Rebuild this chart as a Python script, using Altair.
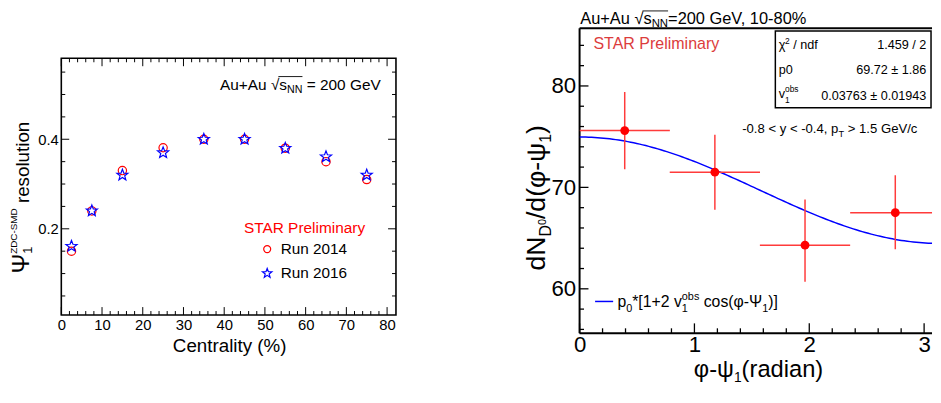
import math
import altair as alt
import pandas as pd

FONT = "Liberation Sans"

# ---------------- left panel data ----------------
CENTRALITY = [2.5, 7.5, 15, 25, 35, 45, 55, 65, 75]
RES_RUN2014 = [0.150, 0.240, 0.330, 0.381, 0.400, 0.400, 0.380, 0.350, 0.310]
RES_RUN2016 = [0.161, 0.240, 0.320, 0.370, 0.400, 0.400, 0.380, 0.361, 0.320]
RUNS = ["Run 2014", "Run 2016"]
LEFT_X_LABELS = [0, 10, 20, 30, 40, 50, 60, 70, 80]
LEFT_Y_LABELS = [0.2, 0.4]
LEFT_X_MINOR = [2, 4, 6, 8, 12, 14, 16, 18, 22, 24, 26, 28, 32, 34, 36, 38, 42, 44, 46, 48,
                52, 54, 56, 58, 62, 64, 66, 68, 72, 74, 76, 78]
LEFT_Y_MINOR = [0.05, 0.10, 0.15, 0.25, 0.30, 0.35, 0.45, 0.50, 0.55]

# ---------------- right panel data ----------------
PHI_CENTER = [0.393, 1.178, 1.963, 2.749]
PHI_HALFWIDTH = [0.393, 0.393, 0.393, 0.393]
DN_VALUE = [75.6, 71.5, 64.3, 67.5]
DN_LOW = [71.8, 67.8, 60.7, 63.9]
DN_HIGH = [79.4, 75.2, 68.8, 71.2]
FIT_P0, FIT_P0_ERR = 69.72, 1.86
FIT_V1, FIT_V1_ERR = 0.03763, 0.01943
CHI2, NDF = 1.459, 2
RIGHT_X_LABELS = [0, 1, 2, 3]
RIGHT_Y_LABELS = [60, 70, 80]
RIGHT_X_MINOR = [0.2, 0.4, 0.6, 0.8, 1.2, 1.4, 1.6, 1.8, 2.2, 2.4, 2.6, 2.8]
RIGHT_Y_MINOR = [56, 58, 62, 64, 66, 68, 72, 74, 76, 78, 82, 84]

# ---------------- geometry (page pixels) ----------------
R_X0, R_Y0, R_W, R_H = 581, 26.5, 357, 309
L_X0, L_W = 61, 339
L_FT, L_FB = 57, 317            # left frame top / bottom (page)
L_Y0 = R_Y0                      # views share the same top in the row
L_H = L_FB - L_Y0                # view height
L_FTR = L_FT - L_Y0              # frame top relative to view


def lin(p, p1, v1, p2, v2):
    return v1 + (p - p1) * (v2 - v1) / (p2 - p1)


L_XDOM = [lin(L_X0, 61, 0, 391, 80), lin(L_X0 + L_W, 61, 0, 391, 80)]
L_YDOM = [lin(L_FB, 229.7, 0.2, 139.0, 0.4), lin(L_FT, 229.7, 0.2, 139.0, 0.4)]
R_XDOM = [lin(R_X0, 581, 0, 930, 3), lin(R_X0 + R_W, 581, 0, 930, 3)]
R_YDOM = [lin(R_Y0 + R_H, 290.5, 60, 85, 80), lin(R_Y0, 290.5, 60, 85, 80)]

LXS = alt.Scale(domain=L_XDOM, nice=False, zero=False)
LYS = alt.Scale(domain=L_YDOM, range=[L_H, L_FTR], nice=False, zero=False)
RXS = alt.Scale(domain=R_XDOM, nice=False, zero=False)
RYS = alt.Scale(domain=R_YDOM, nice=False, zero=False)

ONE = pd.DataFrame({"k": [0]})

AW = {" ": 278, "!": 278, "%": 889, "(": 333, ")": 333, "*": 389, "+": 584, ",": 278,
      "-": 333, ".": 278, "/": 278, "<": 584, "=": 584, ">": 584, "[": 278, "]": 278,
      "A": 667, "C": 722, "D": 722, "G": 778, "M": 833, "N": 722, "P": 667, "R": 722,
      "S": 667, "T": 611, "V": 667, "Z": 611, "a": 556, "b": 556, "c": 500, "d": 556,
      "e": 556, "f": 278, "i": 222, "l": 222, "m": 833, "n": 556, "o": 556, "p": 556,
      "r": 333, "s": 500, "t": 278, "u": 556, "v": 500, "y": 500, "±": 584, "√": 549,
      "Ψ": 833, "φ": 649, "ψ": 712, "χ": 500}


def tw(s, fs):
    return sum(AW.get(c, 556) for c in s) * fs / 1000.0


def txt(t, x, y, fs, color="black", angle=0, align="left"):
    kw = dict(text=t, fontSize=fs, font=FONT, color=color, align=align, baseline="alphabetic")
    if angle:
        kw["angle"] = angle
    return alt.Chart(ONE).mark_text(**kw).encode(x=alt.value(x), y=alt.value(y))


def rich(segs, px, py, origin, color="black", vertical=False):
    ox, oy = origin
    x0, y0 = px - ox, py - oy
    layers = []
    cur = 0.0
    for seg in segs:
        t, fs, shift = seg[0], seg[1], seg[2]
        adv = seg[3] if len(seg) > 3 else True
        lead = len(t) - len(t.lstrip(" "))
        cur += lead * 0.278 * fs
        core = t.strip(" ")
        trail = (len(t) - len(t.rstrip(" "))) if core else 0
        if core:
            if vertical:
                layers.append(txt(core, x0 + shift, y0 - cur, fs, color, angle=270))
            else:
                layers.append(txt(core, x0 + cur, y0 + shift, fs, color))
        if adv:
            cur += tw(core, fs) + trail * 0.278 * fs
    return layers


def hline(x1, x2, y, origin, color="black", sw=1.0):
    ox, oy = origin
    return alt.Chart(ONE).mark_rule(color=color, strokeWidth=sw).encode(
        x=alt.value(x1 - ox), x2=alt.value(x2 - ox), y=alt.value(y - oy))


def vline(x, y1, y2, origin, color="black", sw=1.0):
    ox, oy = origin
    return alt.Chart(ONE).mark_rule(color=color, strokeWidth=sw).encode(
        x=alt.value(x - ox), y=alt.value(y1 - oy), y2=alt.value(y2 - oy))


def marker(x, y, origin):
    ox, oy = origin
    return alt.Chart(ONE).mark_rule(opacity=0, strokeWidth=1).encode(
        x=alt.value(x - ox), x2=alt.value(x - ox), y=alt.value(y - oy), y2=alt.value(y - oy))


def label_axis(values, fmt, fs, pad):
    return alt.Axis(values=values, format=fmt, ticks=False, tickSize=0, domain=False, grid=False,
                    labelFont=FONT, labelFontSize=fs, labelColor="black", labelPadding=pad,
                    labelFlush=False, labelOverlap=False, title=None)


LXA = label_axis(LEFT_X_LABELS, "d", 15, 3)
LYA = label_axis(LEFT_Y_LABELS, ".1f", 15, 3)
RXA = label_axis(RIGHT_X_LABELS, "d", 22.5, 1)
RYA = label_axis(RIGHT_Y_LABELS, "d", 22.5, 4)


def xticks(values, scale, axis, y1, y2, sw=1.0):
    return alt.Chart(pd.DataFrame({"v": values})).mark_rule(color="black", strokeWidth=sw).encode(
        x=alt.X("v:Q", scale=scale, axis=axis), y=alt.value(y1), y2=alt.value(y2))


def yticks(values, scale, axis, x1, x2, sw=1.0):
    return alt.Chart(pd.DataFrame({"v": values})).mark_rule(color="black", strokeWidth=sw).encode(
        y=alt.Y("v:Q", scale=scale, axis=axis), x=alt.value(x1), x2=alt.value(x2))


def star_path(r_in=0.42):
    pts = []
    for k in range(10):
        ang = math.radians(-90 + 36 * k)
        r = 1.0 if k % 2 == 0 else r_in
        pts.append(f"{r * math.cos(ang):.3f},{r * math.sin(ang):.3f}")
    return "M" + "L".join(pts) + "Z"


CIRCLE_PATH = "M0.71,0A0.71,0.71,0,1,1,-0.71,0A0.71,0.71,0,1,1,0.71,0Z"

# ====================== LEFT PANEL ======================
LO = (L_X0, L_Y0)
left_df = pd.DataFrame({
    "centrality": CENTRALITY + CENTRALITY,
    "resolution": RES_RUN2014 + RES_RUN2016,
    "run": [RUNS[0]] * len(CENTRALITY) + [RUNS[1]] * len(CENTRALITY),
})
leg = alt.Legend(orient="none", legendX=200.8, legendY=185.5 + L_FTR, title=None, labelFont=FONT,
                 labelFontSize=15.5, labelColor="black", labelOffset=6, rowPadding=7.5,
                 padding=0, symbolStrokeWidth=1.2)
left_points = alt.Chart(left_df).mark_point(filled=False, strokeWidth=1.2, size=140, opacity=1).encode(
    x=alt.X("centrality:Q", scale=LXS, axis=LXA),
    y=alt.Y("resolution:Q", scale=LYS, axis=LYA),
    shape=alt.Shape("run:N", scale=alt.Scale(domain=RUNS, range=[CIRCLE_PATH, star_path()]), legend=leg),
    color=alt.Color("run:N", scale=alt.Scale(domain=RUNS, range=["#ff0000", "#0000ff"]), legend=leg),
)

left_layers = [
    marker(8.5, 150, LO), marker(L_X0 + L_W + 5, 150, LO),
    alt.Chart(ONE).mark_rect(filled=False, stroke="black", strokeWidth=1.6).encode(
        x=alt.value(0), x2=alt.value(L_W), y=alt.value(L_FTR), y2=alt.value(L_H)),
    xticks(LEFT_X_LABELS, LXS, LXA, L_H, L_H - 8), xticks(LEFT_X_MINOR, LXS, LXA, L_H, L_H - 4),
    xticks(LEFT_X_LABELS, LXS, LXA, L_FTR, L_FTR + 8), xticks(LEFT_X_MINOR, LXS, LXA, L_FTR, L_FTR + 4),
    yticks(LEFT_Y_LABELS, LYS, LYA, 0, 8), yticks(LEFT_Y_MINOR, LYS, LYA, 0, 4),
    yticks(LEFT_Y_LABELS, LYS, LYA, L_W, L_W - 8), yticks(LEFT_Y_MINOR, LYS, LYA, L_W, L_W - 4),
    left_points,
]
# annotation: Au+Au sqrt(s_NN) = 200 GeV
ann_x, ann_y = 221.7, 89.3
AFS = 15.6
left_layers += rich([("Au+Au ", AFS, 0), ("√", AFS, 0), ("s", AFS, 0), ("NN", 10.8, 3), (" = 200 GeV", AFS, 0)],
                    ann_x, ann_y, LO)
ov_start = ann_x + tw("Au+Au ", AFS) + tw("√", AFS) - 1
ov_end = ov_start + 1 + tw("s", AFS) + tw("NN", 10.8)
left_layers.append(hline(ov_start, ov_end, ann_y - 13.8, LO, sw=0.9))
left_layers.append(txt("STAR Preliminary", 246 - L_X0, 234 - L_Y0, 15.6, "#ff0000"))
left_layers.append(txt("Centrality (%)", 174 - L_X0, 354.3 - L_Y0, 19))
left_layers += rich([("Ψ", 24, 0), ("1", 13, 3, False), ("ZDC-SMD", 10, -12), (" resolution", 19, 0)],
                    28, 275, LO, vertical=True)

left = alt.layer(*left_layers).properties(width=L_W, height=L_H)

# ====================== RIGHT PANEL ======================
RO = (R_X0, R_Y0)
right_df = pd.DataFrame({
    "phi": PHI_CENTER,
    "phi_lo": [c - h for c, h in zip(PHI_CENTER, PHI_HALFWIDTH)],
    "phi_hi": [c + h for c, h in zip(PHI_CENTER, PHI_HALFWIDTH)],
    "dn": DN_VALUE, "dn_lo": DN_LOW, "dn_hi": DN_HIGH,
})
fit_x = [i * math.pi / 120 for i in range(121)]
fit_df = pd.DataFrame({"x": fit_x, "y": [FIT_P0 * (1 + 2 * FIT_V1 * math.cos(v)) for v in fit_x]})
ERR_COLOR = "#ff3b3b"

right_layers = [
    marker(R_X0 - 160.5, R_Y0 - 18, RO),
    hline(R_X0, R_X0 + R_W, R_Y0, RO, sw=2), hline(R_X0, R_X0 + R_W, R_Y0 + R_H, RO, sw=2),
    vline(R_X0, R_Y0, R_Y0 + R_H, RO, sw=2),
    xticks(RIGHT_X_LABELS, RXS, RXA, R_H, R_H - 10, 1.3), xticks(RIGHT_X_MINOR, RXS, RXA, R_H, R_H - 5, 1.3),
    yticks(RIGHT_Y_LABELS, RYS, RYA, 0, 9, 1.3), yticks(RIGHT_Y_MINOR, RYS, RYA, 0, 4.5, 1.3),
    alt.Chart(fit_df).mark_line(color="#0000ff", strokeWidth=1.5, clip=True).encode(
        x=alt.X("x:Q", scale=RXS, axis=RXA), y=alt.Y("y:Q", scale=RYS, axis=RYA)),
    alt.Chart(right_df).mark_rule(color=ERR_COLOR, strokeWidth=1.5, clip=True).encode(
        x=alt.X("phi_lo:Q", scale=RXS, axis=RXA), x2="phi_hi:Q", y=alt.Y("dn:Q", scale=RYS, axis=RYA)),
    alt.Chart(right_df).mark_rule(color=ERR_COLOR, strokeWidth=1.5, clip=True).encode(
        x=alt.X("phi:Q", scale=RXS, axis=RXA), y=alt.Y("dn_lo:Q", scale=RYS, axis=RYA), y2="dn_hi:Q"),
    alt.Chart(right_df).mark_circle(size=80, color="#ff0000", opacity=1).encode(
        x=alt.X("phi:Q", scale=RXS, axis=RXA), y=alt.Y("dn:Q", scale=RYS, axis=RYA)),
]
# title
t_x, t_y = 581.7, R_Y0 - 4.5
TFS = 16.6
right_layers += rich([("Au+Au ", TFS, 0), ("√", TFS, 0), ("s", TFS, 0), ("NN", 11.5, 3), ("=200 GeV, 10-80%", TFS, 0)],
                     t_x, t_y, RO)
ov2_start = t_x + tw("Au+Au ", TFS) + tw("√", TFS) - 1
ov2_end = ov2_start + 1 + tw("s", TFS) + tw("NN", 11.5)
right_layers.append(hline(ov2_start, ov2_end, t_y - 13, RO, sw=0.9))
right_layers.append(txt("STAR Preliminary", 595 - R_X0, 47.3 - R_Y0, 16.2, "#dc3c3c"))
# stats box
right_layers.append(alt.Chart(ONE).mark_rect(fill="white", stroke="black", strokeWidth=1.5).encode(
    x=alt.value(779.3 - R_X0), x2=alt.value(R_W - 1), y=alt.value(29.3 - R_Y0), y2=alt.value(107 - R_Y0)))
SX, SR = 782.7, 932.3
right_layers += rich([("χ", 12.8, 0), ("2", 8.5, -5), (" / ndf", 12.8, 0)], SX, 47.9, RO)
right_layers.append(txt(f"{CHI2} / {NDF}", SR - R_X0, 47.9 - R_Y0, 12.8, align="right"))
right_layers.append(txt("p0", SX - R_X0, 72.9 - R_Y0, 12.8))
right_layers.append(txt(f"{FIT_P0} ± {FIT_P0_ERR}", SR - R_X0, 72.9 - R_Y0, 12.8, align="right"))
right_layers += rich([("v", 12.8, 0), ("1", 8.5, 5, False), ("obs", 8.5, -6)], SX, 97.5, RO)
right_layers.append(txt(f"{FIT_V1} ± {FIT_V1_ERR}", SR - R_X0, 98.9 - R_Y0, 12.8, align="right"))
# cut annotation
right_layers += rich([("-0.8 < y < -0.4, p", 13.3, 0), ("T", 9.3, 4), (" > 1.5 GeV/c", 13.3, 0)], 745.7, 132.8, RO)
# legend
right_layers.append(hline(596.7, 615, 303.3, RO, color="#0000ff", sw=1.5))
right_layers += rich([("p", 16, 0), ("0", 11, 5), ("*[1+2 v", 16, 0), ("1", 11, 5, False), ("obs", 11, -7),
                      (" cos(φ-Ψ", 16, 0), ("1", 11, 5), (")]", 16, 0)], 619.3, 308.5, RO)
# axis titles
right_layers += rich([("φ-ψ", 24, 0), ("1", 14, 5), ("(radian)", 24, 0)], 696.7, 380, RO)
right_layers += rich([("dN", 27, 0), ("D", 16, 6.5), ("0", 11, 1), ("/d(φ-ψ", 27, 0), ("1", 16, 6.5), (")", 27, 0)],
                     546, 272, RO, vertical=True)

right = alt.layer(*right_layers).properties(width=R_W, height=R_H)

chart = alt.hconcat(left, right, spacing=20).properties(padding=0).configure_view(strokeWidth=0)
chart.save("out.html", embed_options={"renderer": "svg", "actions": False})
